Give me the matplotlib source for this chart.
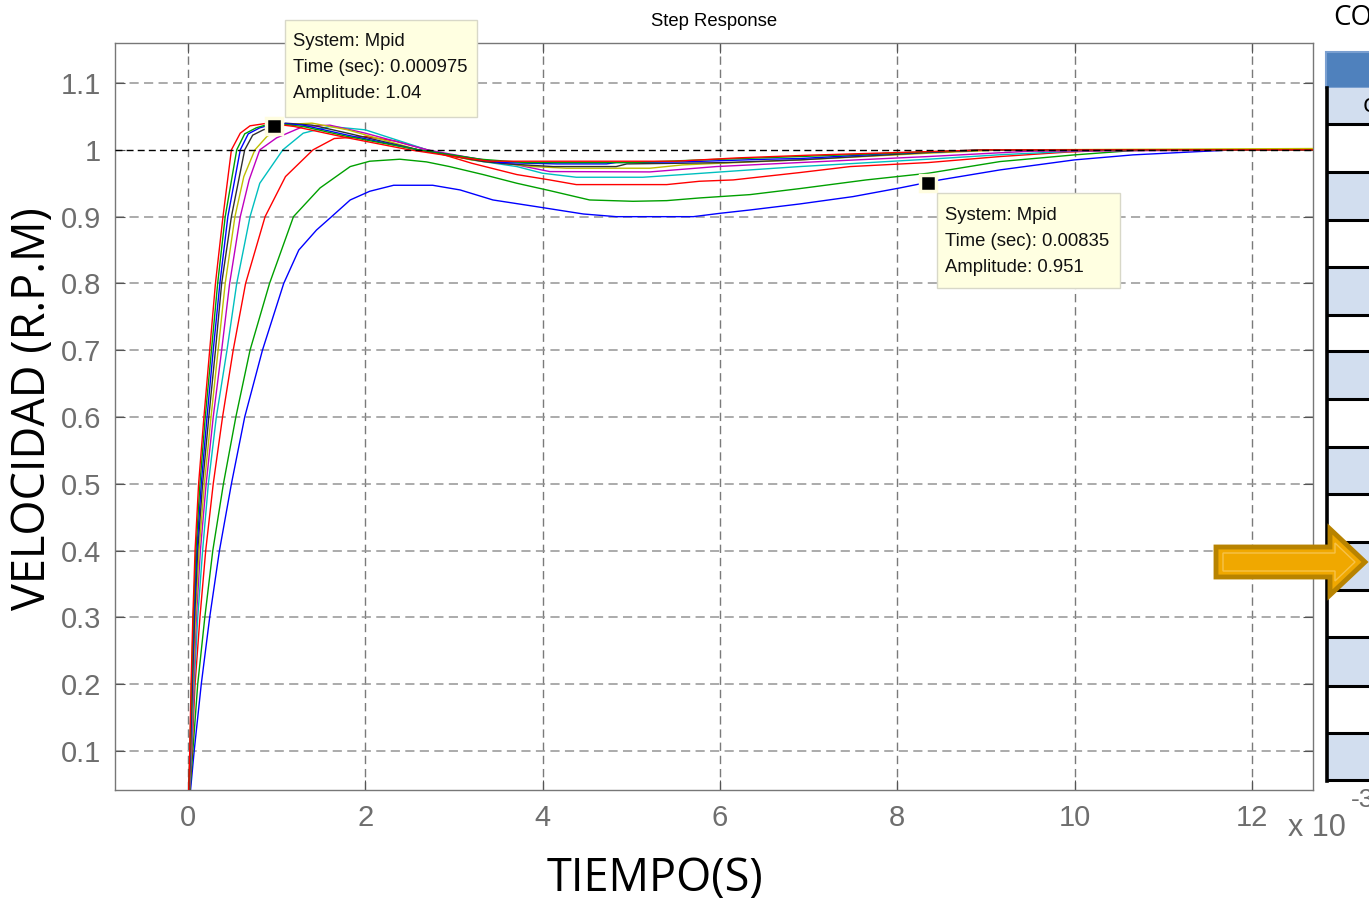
import matplotlib
matplotlib.use("Agg")
import matplotlib.pyplot as plt
from matplotlib.patches import Rectangle, Polygon
from matplotlib.lines import Line2D

W, H = 1369, 900

# ---------------- data (time in ms, amplitude) ----------------
blue1_t = [0, 0.07, 0.15, 0.245, 0.355, 0.49, 0.64, 0.84, 1.08, 1.25, 1.45, 1.62, 1.83, 2.05, 2.32, 2.76,
           3.07, 3.44, 3.93, 4.46, 4.83, 5.70, 6.0, 6.34, 6.9, 7.5, 8.03, 8.48, 9.16, 10.0, 10.66, 11.41, 11.8, 12.7]
blue1_y = [0, 0.1, 0.2, 0.3, 0.4, 0.5, 0.6, 0.7, 0.8, 0.85, 0.88, 0.9, 0.925, 0.938, 0.947, 0.947,
           0.940, 0.925, 0.915, 0.904, 0.900, 0.900, 0.905, 0.910, 0.919, 0.930, 0.943, 0.955, 0.970, 0.985, 0.9925,
           0.9975, 1.0, 1.0]

green1_t = [0, 0.055, 0.11, 0.19, 0.28, 0.40, 0.54, 0.70, 0.92, 1.19, 1.49, 1.83, 2.05, 2.39, 2.69, 2.95,
            3.33, 3.71, 4.08, 4.53, 5.02, 5.4, 5.77, 6.34, 6.9, 7.65, 8.35, 9.16, 10.0, 10.66, 11.15, 12.7]
green1_y = [0, 0.1, 0.2, 0.3, 0.4, 0.5, 0.6, 0.7, 0.8, 0.9, 0.943, 0.975, 0.983, 0.986, 0.982, 0.975,
            0.963, 0.95, 0.939, 0.925, 0.923, 0.924, 0.928, 0.933, 0.942, 0.955, 0.965, 0.9825, 0.9925, 0.999, 1.0, 1.0]

red1_t = [0, 0.045, 0.08, 0.135, 0.20, 0.285, 0.39, 0.51, 0.65, 0.87, 1.1, 1.41, 1.65, 2.0, 2.35, 2.7, 3.2,
          3.71, 4.08, 4.38, 5.4, 5.77, 6.15, 6.9, 7.47, 8.35, 9.16, 9.9, 10.47, 12.7]
red1_y = [0, 0.1, 0.2, 0.3, 0.4, 0.5, 0.6, 0.7, 0.8, 0.9, 0.96, 1.0, 1.017, 1.02, 1.013, 1.0, 0.98,
          0.963, 0.955, 0.948, 0.948, 0.953, 0.955, 0.966, 0.975, 0.981, 0.99, 0.9965, 1.0, 1.0]

cyan_t = [0, 0.04, 0.07, 0.11, 0.165, 0.23, 0.32, 0.44, 0.55, 0.70, 0.81, 1.07, 1.3, 1.6, 2.0, 2.7, 3.2,
          3.71, 4.0, 4.38, 5.13, 5.58, 6.34, 6.9, 8.35, 9.2, 10.0, 10.5, 12.7]
cyan_y = [0, 0.1, 0.2, 0.3, 0.4, 0.5, 0.6, 0.7, 0.8, 0.9, 0.95, 1.0, 1.025, 1.035, 1.03, 1.0, 0.985,
          0.975, 0.965, 0.959, 0.959, 0.963, 0.97, 0.975, 0.986, 0.993, 0.998, 1.0, 1.0]

mag_t = [0, 0.035, 0.062, 0.095, 0.14, 0.205, 0.285, 0.38, 0.47, 0.59, 0.69, 0.81, 1.0, 1.3, 1.6, 2.0, 2.7,
         3.2, 3.71, 4.08, 5.21, 5.96, 6.9, 8.35, 9.5, 12.7]
mag_y = [0, 0.1, 0.2, 0.3, 0.4, 0.5, 0.6, 0.7, 0.8, 0.9, 0.955, 1.0, 1.018, 1.035, 1.037, 1.025, 1.0,
         0.988, 0.9775, 0.9675, 0.967, 0.975, 0.981, 0.99, 0.998, 1.0]

yel_t = [0, 0.03, 0.055, 0.085, 0.125, 0.185, 0.26, 0.34, 0.42, 0.53, 0.63, 0.755, 0.89, 1.1, 1.4, 1.8, 2.6,
         3.2, 3.89, 4.27, 5.21, 5.58, 6.9, 8.35, 9.2, 12.7]
yel_y = [0, 0.1, 0.2, 0.3, 0.4, 0.5, 0.6, 0.7, 0.8, 0.9, 0.96, 1.0, 1.02, 1.038, 1.04, 1.03, 1.0,
         0.985, 0.975, 0.9725, 0.9725, 0.9775, 0.985, 0.995, 1.0, 1.002]

blk_t = [0, 0.028, 0.05, 0.075, 0.11, 0.165, 0.235, 0.31, 0.38, 0.49, 0.64, 0.73, 0.85, 1.1, 1.4, 1.8, 2.6,
         3.33, 3.6, 4.12, 4.83, 4.95, 5.58, 6.07, 6.9, 8.35, 9.0, 12.7]
blk_y = [0, 0.1, 0.2, 0.3, 0.4, 0.5, 0.6, 0.7, 0.8, 0.9, 1.0, 1.022, 1.03, 1.04, 1.037, 1.025, 1.0,
         0.9825, 0.979, 0.975, 0.975, 0.979, 0.98, 0.981, 0.985, 0.996, 1.0, 1.0]

blue2_t = [0, 0.025, 0.045, 0.068, 0.10, 0.15, 0.215, 0.285, 0.36, 0.45, 0.59, 0.68, 0.81, 1.0, 1.3, 1.8, 2.6,
           3.52, 4.16, 4.72, 4.83, 5.58, 6.53, 6.9, 8.0, 9.0, 12.7]
blue2_y = [0, 0.1, 0.2, 0.3, 0.4, 0.5, 0.6, 0.7, 0.8, 0.9, 1.0, 1.024, 1.033, 1.04, 1.037, 1.022, 1.0,
           0.981, 0.979, 0.979, 0.981, 0.982, 0.986, 0.987, 0.995, 1.0, 1.0]

green2_t = [0, 0.022, 0.04, 0.06, 0.09, 0.135, 0.195, 0.265, 0.335, 0.42, 0.55, 0.64, 0.77, 0.95, 1.3, 1.8,
            2.6, 3.3, 3.8, 5.0, 5.8, 6.9, 8.35, 9.0, 12.7]
green2_y = [0, 0.1, 0.2, 0.3, 0.4, 0.5, 0.6, 0.7, 0.8, 0.9, 1.0, 1.024, 1.033, 1.04, 1.035, 1.02,
            1.0, 0.986, 0.981, 0.981, 0.985, 0.99, 0.997, 1.0, 1.0]

red2_t = [0, 0.02, 0.035, 0.055, 0.08, 0.12, 0.18, 0.245, 0.31, 0.395, 0.49, 0.59, 0.70, 0.9, 1.2, 1.8, 2.5,
          3.0, 3.4, 5.5, 6.2, 7.0, 8.0, 9.0, 12.7]
red2_y = [0, 0.1, 0.2, 0.3, 0.4, 0.5, 0.6, 0.7, 0.8, 0.9, 1.0, 1.025, 1.036, 1.04, 1.035, 1.018, 1.0,
          0.99, 0.983, 0.983, 0.988, 0.992, 0.996, 1.0, 1.0]

series = [
    (blue1_t, blue1_y, "#0000ff"),
    (green1_t, green1_y, "#00a000"),
    (red1_t, red1_y, "#ff0000"),
    (cyan_t, cyan_y, "#00bfbf"),
    (mag_t, mag_y, "#bf00bf"),
    (yel_t, yel_y, "#bfbf00"),
    (blk_t, blk_y, "#303030"),
    (blue2_t, blue2_y, "#0000ff"),
    (green2_t, green2_y, "#00a000"),
    (red2_t, red2_y, "#ff0000"),
]

x_ticks = [0, 2, 4, 6, 8, 10, 12]
y_ticks = [0.1, 0.2, 0.3, 0.4, 0.5, 0.6, 0.7, 0.8, 0.9, 1.0, 1.1]
y_ticklabels = ["0.1", "0.2", "0.3", "0.4", "0.5", "0.6", "0.7", "0.8", "0.9", "1", "1.1"]

tip1_t, tip1_y = 0.975, 1.036
tip1_lines = ["System: Mpid", "Time (sec): 0.000975", "Amplitude: 1.04"]
tip2_t, tip2_y = 8.35, 0.951
tip2_lines = ["System: Mpid", "Time (sec): 0.00835", "Amplitude: 0.951"]

# ---------------- figure ----------------
fig = plt.figure(figsize=(W / 100, H / 100), dpi=100)
fig.patch.set_facecolor("white")


def fx(px):
    return px / W


def fy(py):
    return 1 - py / H


ax = fig.add_axes([fx(115), fy(790), fx(1313) - fx(115), fy(43) - fy(790)])
ax.set_xlim(-0.823, 12.69)
ax.set_ylim(0.0416, 1.160)

for xt in x_ticks:
    ax.axvline(xt, color="#7a7a7a", lw=1.0, ls=(0, (6, 3.5)), zorder=1)
for yt in y_ticks:
    if abs(yt - 1.0) > 1e-9:
        ax.axhline(yt, color="#959595", lw=1.1, ls=(0, (6, 3.5)), zorder=1)

for t, y, c in series:
    ax.plot(t, y, color=c, lw=1.0, zorder=3, solid_joinstyle="round")

ax.axhline(1.0, color="black", lw=1.0, ls=(0, (5, 3)), zorder=4)

ax.set_xticks(x_ticks)
ax.set_xticklabels([str(v) for v in x_ticks])
ax.set_yticks(y_ticks)
ax.set_yticklabels(y_ticklabels)
ax.tick_params(direction="in", length=7, width=0.8, color="#555555",
               top=True, right=True, labelsize=21, labelcolor="#6e6e6e", pad=10)
for lab in ax.get_xticklabels() + ax.get_yticklabels():
    lab.set_fontfamily("Liberation Sans")
for s in ax.spines.values():
    s.set_color("#777777")
    s.set_linewidth(1.0)

ax.set_title("Step Response", fontsize=13.3, family="Liberation Sans", pad=12)

# data tips
for (tt, ty, lines, box) in [(tip1_t, tip1_y, tip1_lines, (285, 20, 477, 117)),
                             (tip2_t, tip2_y, tip2_lines, (937, 193, 1120, 288))]:
    ax.plot([tt], [ty], marker="s", ms=11, color="black", mec="#fffde0", mew=2.5, zorder=6)
    x0, y0, x1, y1 = box
    fig.patches.append(Rectangle((fx(x0), fy(y1)), fx(x1) - fx(x0), fy(y0) - fy(y1),
                                 transform=fig.transFigure, facecolor="#ffffe1",
                                 edgecolor="#d8d8c8", lw=1, zorder=10))
    for i, ln in enumerate(lines):
        fig.text(fx(x0 + 8), fy(y0 + 22 + 26 * i), ln, fontsize=13.3, family="Liberation Sans",
                 va="center", ha="left", color="#111111", zorder=11)

# axis labels
fig.text(fx(655), fy(879), "TIEMPO(S)", fontsize=32.5, family="Open Sans",
         ha="center", va="center", color="black")
fig.text(fx(33), fy(409), "VELOCIDAD (R.P.M)", fontsize=32.5, family="Open Sans",
         ha="center", va="center", rotation=90, color="black")

# x 10^-3
fig.text(fx(1288), fy(828), "x 10", fontsize=22, family="Liberation Sans",
         ha="left", va="center", color="#6e6e6e")
fig.text(fx(1351), fy(800), "-3", fontsize=19, family="Liberation Sans",
         ha="left", va="center", color="#6e6e6e")

# ---------------- right-side table fragment ----------------
fig.text(fx(1333), fy(18), "CO", fontsize=20, family="Open Sans",
         ha="left", va="center", color="black")
fig.patches.append(Rectangle((fx(1326), fy(88)), fx(1400) - fx(1326), fy(52) - fy(88),
                             transform=fig.transFigure, facecolor="#4f81bd",
                             edgecolor="#7a9fd0", lw=1.5, zorder=2))
bounds = [88, 124, 172, 220, 267, 315, 351, 399, 447, 494, 542, 590, 637, 686, 733, 780]
for i in range(len(bounds) - 1):
    col = "#d2deef" if i % 2 == 0 else "white"
    fig.patches.append(Rectangle((fx(1327), fy(bounds[i + 1])), fx(1400) - fx(1327),
                                 fy(bounds[i]) - fy(bounds[i + 1]),
                                 transform=fig.transFigure, facecolor=col, edgecolor="none", zorder=2))
for b in bounds[1:]:
    fig.lines.append(Line2D([fx(1327), fx(1400)], [fy(b), fy(b)], transform=fig.transFigure,
                            color="black", lw=2.2, zorder=3))
fig.lines.append(Line2D([fx(1327), fx(1327)], [fy(88), fy(781)], transform=fig.transFigure,
                        color="black", lw=2.6, zorder=3))
fig.text(fx(1363), fy(106), "c", fontsize=18, family="Open Sans", ha="left", va="center", color="black")

# arrow
arrow_pts = [(1216, 547), (1330, 547), (1330, 529), (1365, 562), (1330, 595), (1330, 577), (1216, 577)]
fig.patches.append(Polygon([(fx(a), fy(b)) for a, b in arrow_pts], closed=True,
                           transform=fig.transFigure, facecolor="#f0a800",
                           edgecolor="#b88300", lw=3.5, zorder=12))
inner_pts = [(1223, 553), (1335, 553), (1335, 543), (1355, 562), (1335, 581), (1335, 571), (1223, 571)]
fig.patches.append(Polygon([(fx(a), fy(b)) for a, b in inner_pts], closed=True,
                           transform=fig.transFigure, facecolor="none",
                           edgecolor="#f7c24a", lw=1.0, zorder=13))

fig.savefig("out.png", dpi=100, facecolor="white")
